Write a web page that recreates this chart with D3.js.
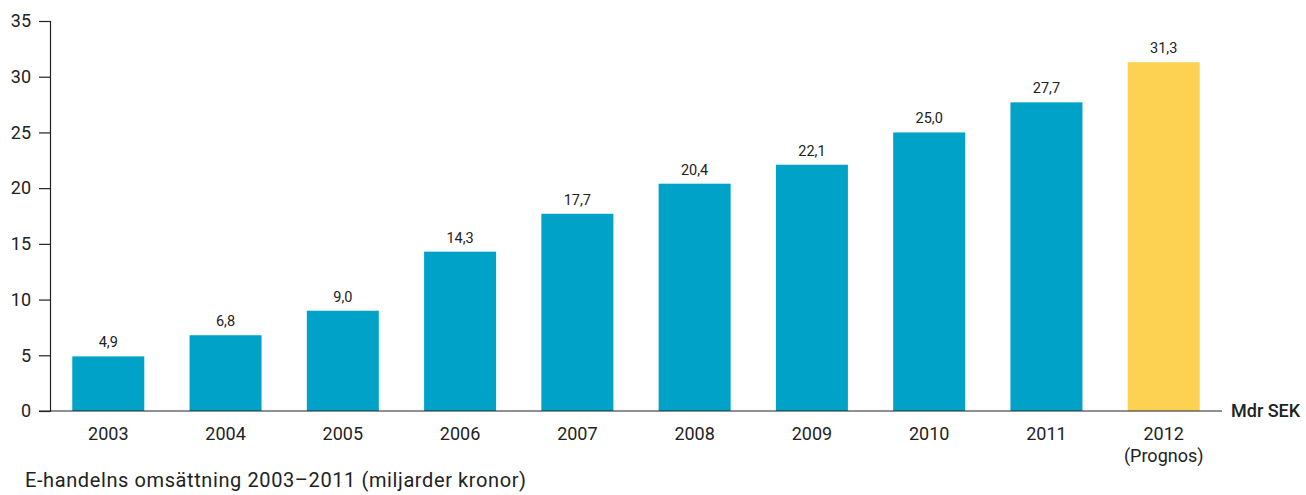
<!DOCTYPE html>
<html>
<head>
<meta charset="utf-8">
<script src="https://cdn.jsdelivr.net/npm/d3@7"></script>
<style>
  body { margin: 0; background: #fff; }
  svg text { font-family: Roboto, "Open Sans", sans-serif; fill: #222; font-weight: 400; }
</style>
</head>
<body>
<svg id="chart" width="1306" height="495"></svg>
<script>
// data
var years = ["2003","2004","2005","2006","2007","2008","2009","2010","2011","2012"];
var values = [4.9, 6.8, 9.0, 14.3, 17.7, 20.4, 22.1, 25.0, 27.7, 31.3];
var forecast = [false,false,false,false,false,false,false,false,false,true];
var yTicks = [0, 5, 10, 15, 20, 25, 30, 35];

var svg = d3.select('#chart');

var x = d3.scaleBand()
    .domain(years)
    .range([50, 1222])
    .paddingInner(0.386)
    .paddingOuter(0.19);

var y = d3.scaleLinear()
    .domain([0, 35])
    .range([411, 21]);

var fmt = v => d3.format('.1f')(v).replace('.', ',');

// y axis
var yAxis = d3.axisLeft(y).tickValues(yTicks).tickSize(11).tickPadding(8);
var gy = svg.append('g')
    .attr('transform', 'translate(50,0)')
    .call(yAxis);
gy.select('.domain').attr('stroke', '#222').attr('stroke-width', 1.2);
gy.selectAll('.tick line').attr('stroke', '#222').attr('stroke-width', 1.2);
gy.selectAll('.tick text')
    .attr('font-size', 18)
    .style('font-family', 'Roboto, sans-serif')
    .attr('fill', '#222');

// bars
var data = years.map((d, i) => ({year: d, value: values[i], forecast: forecast[i]}));

svg.selectAll('rect.bar')
    .data(data)
    .join('rect')
    .attr('class', 'bar')
    .attr('x', d => x(d.year))
    .attr('width', x.bandwidth())
    .attr('y', d => y(d.value))
    .attr('height', d => y(0) - y(d.value))
    .attr('fill', d => d.forecast ? '#FDD253' : '#00A2C7');

// value labels
svg.selectAll('text.val')
    .data(data)
    .join('text')
    .attr('class', 'val')
    .attr('x', d => x(d.year) + x.bandwidth() / 2)
    .attr('y', d => y(d.value) - 9)
    .attr('text-anchor', 'middle')
    .attr('font-size', 14.5)
    .text(d => fmt(d.value));

// baseline
svg.append('line')
    .attr('x1', 39).attr('x2', 1222)
    .attr('y1', y(0)).attr('y2', y(0))
    .attr('stroke', '#222').attr('stroke-width', 1.2);

// x labels
svg.selectAll('text.year')
    .data(data)
    .join('text')
    .attr('class', 'year')
    .attr('x', d => x(d.year) + x.bandwidth() / 2)
    .attr('y', 440)
    .attr('text-anchor', 'middle')
    .attr('font-size', 18)
    .text(d => d.year);

svg.selectAll('text.prog')
    .data(data.filter(d => d.forecast))
    .join('text')
    .attr('class', 'prog')
    .attr('x', d => x(d.year) + x.bandwidth() / 2)
    .attr('y', 462)
    .attr('text-anchor', 'middle')
    .attr('font-size', 18)
    .text('(Prognos)');

// unit
svg.append('text')
    .attr('x', 1231)
    .attr('y', y(0) + 6)
    .attr('font-size', 18)
    .style('font-weight', 500)
    .attr('fill', '#111')
    .text('Mdr SEK');

// caption
svg.append('text')
    .attr('x', 25)
    .attr('y', 487)
    .attr('font-size', 20)
    .attr('letter-spacing', 0.6)
    .text('E-handelns omsättning 2003–2011 (miljarder kronor)');
</script>
</body>
</html>
